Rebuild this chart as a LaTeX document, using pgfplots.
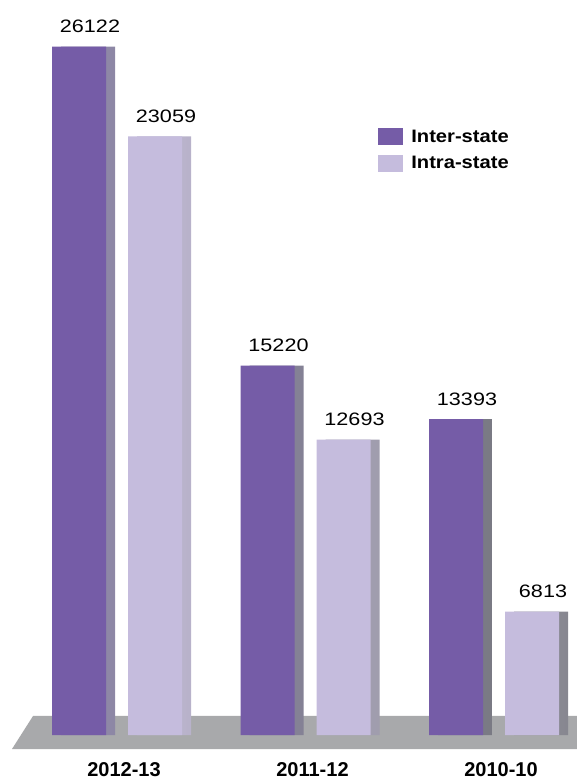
\documentclass[border=0pt]{standalone}
\usepackage{pgfplots}
\usepackage{pgfplotstable}
\pgfplotsset{compat=1.18}
\usepackage{fontspec}
\setmainfont{Liberation Sans}
\newfontfamily\widefont{Liberation Sans}[FakeStretch=1.2]
\newfontfamily\legfont{Liberation Sans}[FakeStretch=1.12]
\definecolor{inter}{HTML}{755CA7}
\definecolor{intra}{HTML}{C5BCDD}
\definecolor{floorgray}{HTML}{A8A9AB}
\definecolor{sideA}{HTML}{9089AA}
\definecolor{sideB}{HTML}{7A7A84}
\definecolor{sideC}{HTML}{BFB8D2}
\definecolor{sideD}{HTML}{878790}
\pgfplotstableread{
x inter intra
0 26122 23059
1 15220 12693
2 13393 6813
}\datatable
\begin{document}
\begin{tikzpicture}[x=1pt,y=1pt]
\useasboundingbox (0,-49) rectangle (577,735);
\fill[floorgray] (12,-14) -- (33,19) -- (577,19) -- (577,-14) -- cycle;
\begin{axis}[
  at={(0,0)}, anchor=south west,
  scale only axis, width=577pt, height=725pt,
  xmin=-0.6207, xmax=2.4403, ymin=2597, ymax=27375,
  axis line style={draw=none}, tick style={draw=none},
  ytick=\empty, xtick={0,1,2},
  xticklabels={2012-13,2011-12,2010-10},
  xticklabel style={font=\bfseries\fontsize{20}{23}\selectfont, yshift=-20pt, xshift=7pt},
  ybar, bar width=54pt,
  /pgf/number format/1000 sep={},
  /pgf/number format/assume math mode=true,
  every node near coord/.append style={font=\widefont\fontsize{18}{21}\selectfont, anchor=base, yshift=14pt, xshift=11pt, text=black},
  legend style={at={(axis description cs:0.655,0.838)}, anchor=north west, draw=none, fill=none,
    font=\legfont\bfseries\fontsize{18}{21}\selectfont, row sep=9pt, inner sep=0pt},
  legend cell align=left,
]
\addplot[forget plot, draw=none, bar shift=-29pt, left color=sideA, right color=sideB] table[x=x,y=inter]{\datatable};
\addplot[forget plot, draw=none, fill=inter, bar shift=-38pt, nodes near coords] table[x=x,y=inter]{\datatable};
\addplot[forget plot, draw=none, bar shift=47pt, left color=sideC, right color=sideD] table[x=x,y=intra]{\datatable};
\addplot[forget plot, draw=none, fill=intra, bar shift=38pt, nodes near coords] table[x=x,y=intra]{\datatable};
\addlegendimage{legend image code/.code={\fill[inter] (0pt,-8pt) rectangle (24pt,8pt); \path[draw=none,fill=none] (0pt,0pt) -- (31pt,0pt);}}
\addlegendentry{Inter-state}
\addlegendimage{legend image code/.code={\fill[intra] (0pt,-8pt) rectangle (24pt,8pt); \path[draw=none,fill=none] (0pt,0pt) -- (31pt,0pt);}}
\addlegendentry{Intra-state}
\end{axis}
\end{tikzpicture}
\end{document}
